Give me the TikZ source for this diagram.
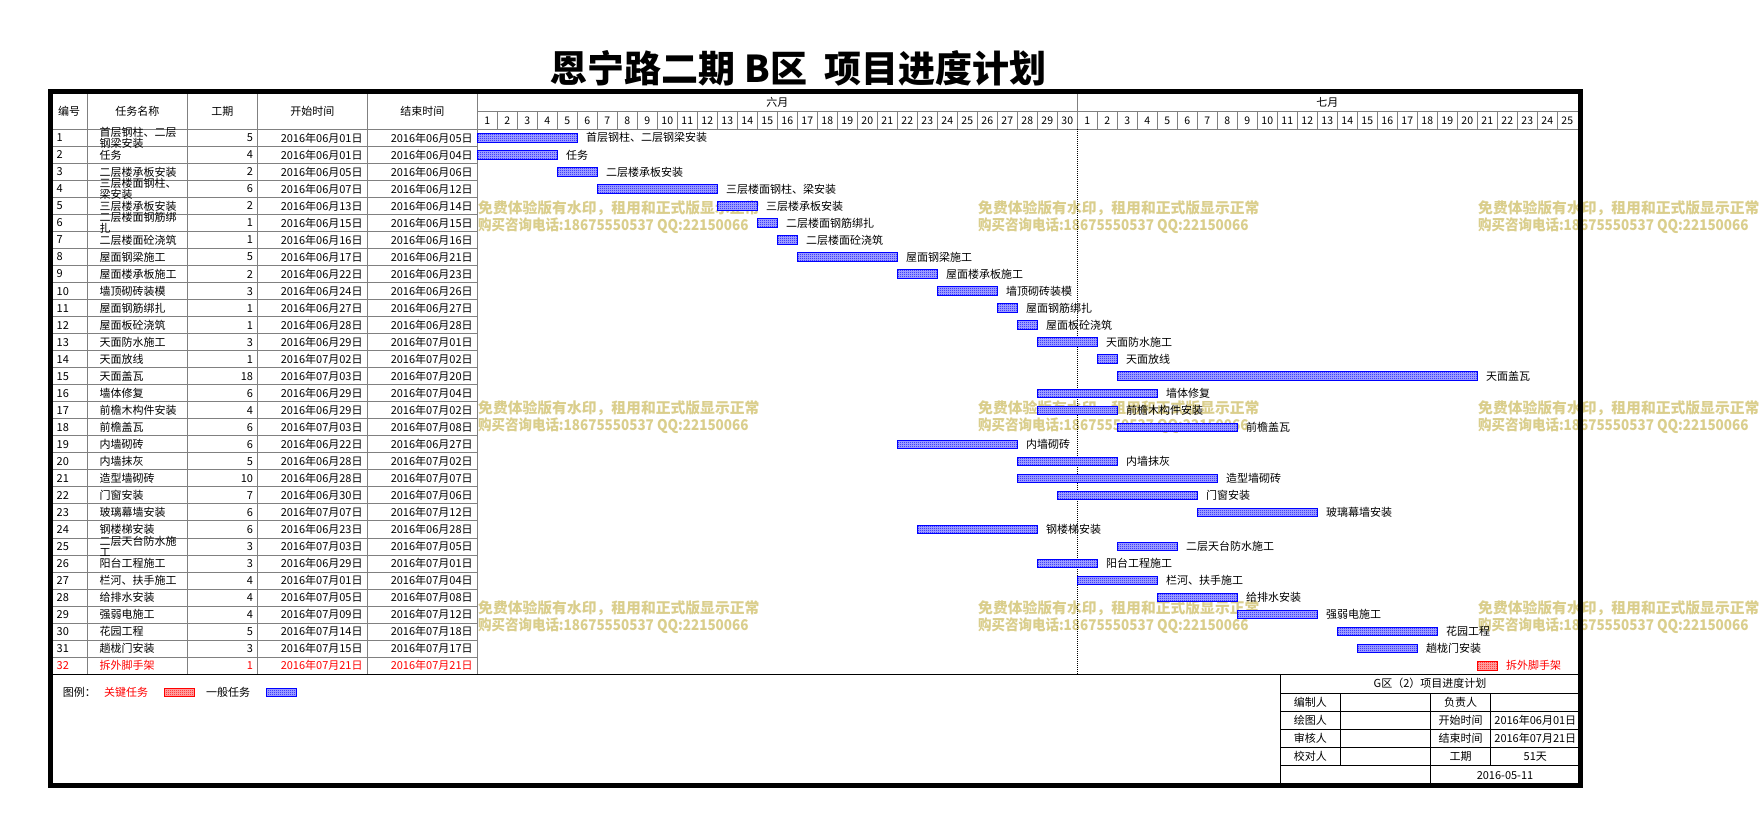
\documentclass[tikz,border=0pt]{standalone}
\usepackage{fontspec}
\setmainfont{Noto Sans CJK SC}
\usetikzlibrary{positioning,patterns}
\definecolor{wmyellow}{RGB}{218,206,140}
\definecolor{tabgray}{RGB}{128,128,128}
\pgfdeclarepatternformonly{checker}{\pgfqpoint{0pt}{0pt}}{\pgfqpoint{2pt}{2pt}}{\pgfqpoint{2pt}{2pt}}{%
  \pgfpathrectangle{\pgfqpoint{0pt}{0pt}}{\pgfqpoint{1pt}{1pt}}%
  \pgfpathrectangle{\pgfqpoint{1pt}{1pt}}{\pgfqpoint{1pt}{1pt}}%
  \pgfusepath{fill}}

\begin{document}
\begin{tikzpicture}[x=1pt,y=-1pt,
    tabline/.style={draw=tabgray,line width=1pt},
    tabcell/.style={inner sep=0pt,font=\fontsize{11}{11}\selectfont},
    taskbar/.style={draw=#1,preaction={fill=#1!30},pattern=checker,pattern color=#1,
      line width=1pt,minimum height=8.5pt,inner sep=0pt,outer sep=0pt,anchor=west},
    wmtext/.style={text=wmyellow,inner sep=0pt,anchor=west,
      font=\fontsize{14.8}{15}\selectfont\bfseries}]
  \fill[white] (0,0) rectangle (1761,835);
  \useasboundingbox (0,0) rectangle (1761,835);

  \node[font=\fontsize{37}{37}\selectfont\bfseries] (title) at (798.5,68) {恩宁路二期 B区\ \ 项目进度计划};

  \foreach \wx in {478,978,1478}
    \foreach \wy in {208,408,608} {
      \node[wmtext] (wma-\wx-\wy) at (\wx,\wy) {免费体验版有水印，租用和正式版显示正常};
      \node[wmtext,xscale=0.91] (wmb-\wx-\wy) at (\wx,\wy+18) {购买咨询电话:18675550537 QQ:22150066};
    }

  \draw[tabline] (52.5,129.3) -- (1578,129.3);
  \foreach \r in {1,...,31}
    \draw[tabline] (52.5,129.3+17.03*\r) -- (477.3,129.3+17.03*\r);
  \foreach \cx in {87.3,187.3,257.3,367.3,477.3}
    \draw[tabline] (\cx,94) -- (\cx,674.3);
  \draw[tabline] (477.3,111.7) -- (1578,111.7);
  \draw[tabline] (1077.3,94) -- (1077.3,111.7);
  \foreach \k in {1,...,54}
    \draw[tabline] (477.3+20*\k,111.7) -- (477.3+20*\k,129.3);

  \node[tabcell] (hno) at (69,111.7) {编号};
  \node[tabcell] (hnm) at (137.3,111.7) {任务名称};
  \node[tabcell] (hdu) at (222.3,111.7) {工期};
  \node[tabcell] (hsd) at (312.3,111.7) {开始时间};
  \node[tabcell] (hed) at (422.3,111.7) {结束时间};
  \node[tabcell] (jun) at (777.3,102.7) {六月};
  \node[tabcell] (jul) at (1327.3,102.7) {七月};
  \foreach \k in {1,...,55} {
    \pgfmathtruncatemacro\dn{ifthenelse(\k<31,\k,\k-30)}
    \node[tabcell,font=\fontsize{10.5}{10.5}\selectfont] (day\k) at (467.3+20*\k,120.5) {\dn};
  }

  \draw[line width=1pt,dash pattern=on 1pt off 1pt] (1077.3,129.3) -- (1077.3,674.3);

  \foreach \i/\nm/\d/\sd/\ed/\s/\lab/\bc/\tc in {
    1/{首层钢柱、二层\\钢梁安装}/5/06月01日/06月05日/0/首层钢柱、二层钢梁安装/blue/black,
    2/任务/4/06月01日/06月04日/0/任务/blue/black,
    3/二层楼承板安装/2/06月05日/06月06日/4/二层楼承板安装/blue/black,
    4/{三层楼面钢柱、\\梁安装}/6/06月07日/06月12日/6/三层楼面钢柱、梁安装/blue/black,
    5/三层楼承板安装/2/06月13日/06月14日/12/三层楼承板安装/blue/black,
    6/{二层楼面钢筋绑\\扎}/1/06月15日/06月15日/14/二层楼面钢筋绑扎/blue/black,
    7/二层楼面砼浇筑/1/06月16日/06月16日/15/二层楼面砼浇筑/blue/black,
    8/屋面钢梁施工/5/06月17日/06月21日/16/屋面钢梁施工/blue/black,
    9/屋面楼承板施工/2/06月22日/06月23日/21/屋面楼承板施工/blue/black,
    10/墙顶砌砖装模/3/06月24日/06月26日/23/墙顶砌砖装模/blue/black,
    11/屋面钢筋绑扎/1/06月27日/06月27日/26/屋面钢筋绑扎/blue/black,
    12/屋面板砼浇筑/1/06月28日/06月28日/27/屋面板砼浇筑/blue/black,
    13/天面防水施工/3/06月29日/07月01日/28/天面防水施工/blue/black,
    14/天面放线/1/07月02日/07月02日/31/天面放线/blue/black,
    15/天面盖瓦/18/07月03日/07月20日/32/天面盖瓦/blue/black,
    16/墙体修复/6/06月29日/07月04日/28/墙体修复/blue/black,
    17/前檐木构件安装/4/06月29日/07月02日/28/前檐木构件安装/blue/black,
    18/前檐盖瓦/6/07月03日/07月08日/32/前檐盖瓦/blue/black,
    19/内墙砌砖/6/06月22日/06月27日/21/内墙砌砖/blue/black,
    20/内墙抹灰/5/06月28日/07月02日/27/内墙抹灰/blue/black,
    21/造型墙砌砖/10/06月28日/07月07日/27/造型墙砌砖/blue/black,
    22/门窗安装/7/06月30日/07月06日/29/门窗安装/blue/black,
    23/玻璃幕墙安装/6/07月07日/07月12日/36/玻璃幕墙安装/blue/black,
    24/钢楼梯安装/6/06月23日/06月28日/22/钢楼梯安装/blue/black,
    25/{二层天台防水施\\工}/3/07月03日/07月05日/32/二层天台防水施工/blue/black,
    26/阳台工程施工/3/06月29日/07月01日/28/阳台工程施工/blue/black,
    27/栏河、扶手施工/4/07月01日/07月04日/30/栏河、扶手施工/blue/black,
    28/给排水安装/4/07月05日/07月08日/34/给排水安装/blue/black,
    29/强弱电施工/4/07月09日/07月12日/38/强弱电施工/blue/black,
    30/花园工程/5/07月14日/07月18日/43/花园工程/blue/black,
    31/趟栊门安装/3/07月15日/07月17日/44/趟栊门安装/blue/black,
    32/拆外脚手架/1/07月21日/07月21日/50/拆外脚手架/red/red} {
    \pgfmathsetmacro\yc{129.3+17.03*(\i-0.5)}
    \node[tabcell,text=\tc,anchor=west] (no\i) at (56.5,\yc) {\i};
    \node[tabcell,text=\tc,anchor=west,align=left] (nm\i) at (99.3,\yc) {\nm};
    \node[tabcell,text=\tc,anchor=east] (du\i) at (253.3,\yc) {\d};
    \node[tabcell,text=\tc,anchor=east] (sd\i) at (362.8,\yc) {2016年\sd};
    \node[tabcell,text=\tc,anchor=east] (ed\i) at (472.8,\yc) {2016年\ed};
    \node[taskbar=\bc,minimum width=20*\d] (bar\i) at (477.3+20*\s,\yc) {};
    \node[tabcell,text=\tc,right=8.5pt of bar\i] (lab\i) {\lab};
  }

  \draw[line width=1.3pt] (52.5,674.3) -- (1578,674.3);

  \node[tabcell,anchor=west] (lgd) at (62.7,692.7) {图例：};
  \node[tabcell,anchor=west,text=red] (lgcrit) at (104,692.7) {关键任务};
  \node[taskbar=red,minimum width=30] (lgbarcrit) at (164,692.7) {};
  \node[tabcell,anchor=west] (lgnorm) at (206,692.7) {一般任务};
  \node[taskbar=blue,minimum width=30] (lgbarnorm) at (266,692.7) {};

  \draw[line width=1pt] (1280,674.3) -- (1280,785.5);
  \foreach \hy in {693.3,711.3,729.3,747.3,765.3}
    \draw[line width=1pt] (1280,\hy) -- (1578,\hy);
  \draw[line width=1pt] (1340.7,693.3) -- (1340.7,765.3);
  \draw[line width=1pt] (1430.7,693.3) -- (1430.7,785.5);
  \draw[line width=1pt] (1490.7,693.3) -- (1490.7,765.3);
  \node[tabcell] (blkhead) at (1430,683.8) {G区（2）项目进度计划};
  \foreach \j/\la/\lb/\vb in {1/编制人/负责人/{},2/绘图人/开始时间/2016年06月01日,
      3/审核人/结束时间/2016年07月21日,4/校对人/工期/51天} {
    \pgfmathsetmacro\ry{693.3+18*(\j-0.5)}
    \node[tabcell] (blka\j) at (1310.3,\ry) {\la};
    \node[tabcell] (blkb\j) at (1460.7,\ry) {\lb};
    \node[tabcell] (blkc\j) at (1535.3,\ry) {\vb};
  }
  \node[tabcell] (blkdate) at (1505,775.4) {2016-05-11};

  \draw[line width=5pt] (50.5,91.7) rectangle (1580.5,785.5);
\end{tikzpicture}
\end{document}
